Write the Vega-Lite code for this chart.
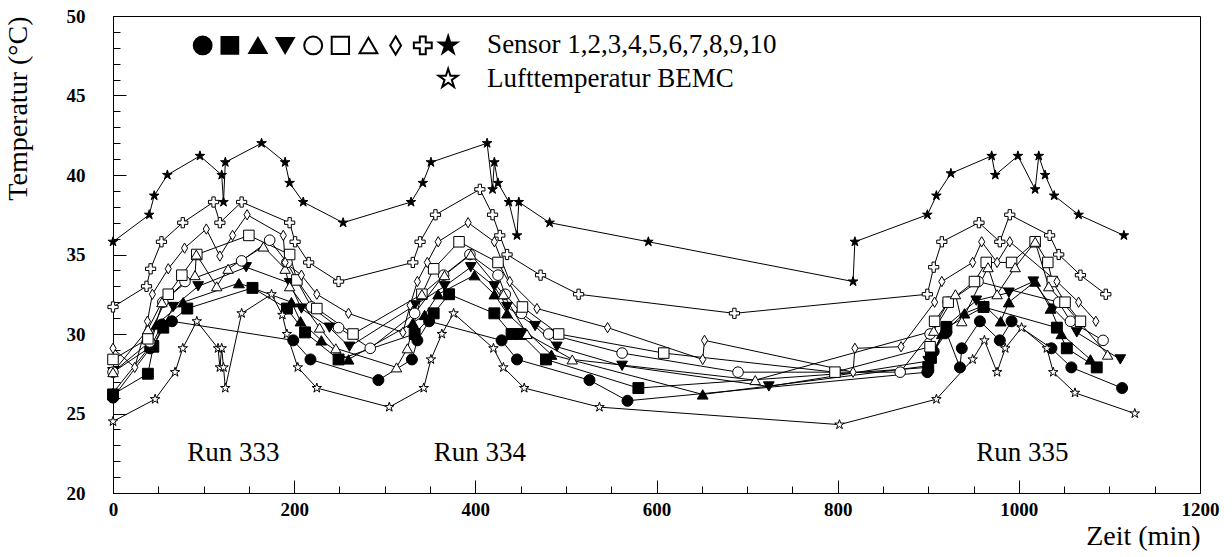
{
  "$schema": "https://vega.github.io/schema/vega-lite/v6.json",
  "width": 1087,
  "height": 477,
  "autosize": {"type": "none"},
  "padding": {"left": 113, "top": 16, "right": 32, "bottom": 64},
  "background": "white",
  "config": {
    "view": {"stroke": "black", "strokeWidth": 1},
    "font": "Liberation Serif",
    "axis": {"grid": false, "domainColor": "black", "tickColor": "black", "labelColor": "black", "titleColor": "black"}
  },
  "resolve": {"axis": {"x": "independent", "y": "independent"}},
  "datasets": {
    "main": [
      {"sensor":"S1","zeit":0,"temp":26.0},{"sensor":"S1","zeit":41,"temp":29.1},{"sensor":"S1","zeit":54,"temp":30.6},{"sensor":"S1","zeit":65,"temp":30.8},{"sensor":"S1","zeit":199,"temp":29.6},{"sensor":"S1","zeit":218,"temp":28.4},{"sensor":"S1","zeit":293,"temp":27.1},{"sensor":"S1","zeit":330,"temp":28.4},{"sensor":"S1","zeit":336,"temp":29.6},{"sensor":"S1","zeit":349,"temp":30.8},{"sensor":"S1","zeit":429,"temp":29.6},{"sensor":"S1","zeit":446,"temp":28.4},{"sensor":"S1","zeit":526,"temp":27.1},{"sensor":"S1","zeit":568,"temp":25.8},{"sensor":"S1","zeit":899,"temp":27.6},{"sensor":"S1","zeit":906,"temp":28.9},{"sensor":"S1","zeit":920,"temp":30.1},{"sensor":"S1","zeit":935,"temp":27.9},{"sensor":"S1","zeit":937,"temp":29.1},{"sensor":"S1","zeit":957,"temp":30.8},{"sensor":"S1","zeit":979,"temp":29.6},{"sensor":"S1","zeit":992,"temp":30.8},{"sensor":"S1","zeit":1036,"temp":29.1},{"sensor":"S1","zeit":1058,"temp":27.9},{"sensor":"S1","zeit":1114,"temp":26.6},
      {"sensor":"S2","zeit":0,"temp":26.2},{"sensor":"S2","zeit":38.5,"temp":27.5},{"sensor":"S2","zeit":44.5,"temp":29.2},{"sensor":"S2","zeit":55.5,"temp":30.4},{"sensor":"S2","zeit":82,"temp":31.6},{"sensor":"S2","zeit":154,"temp":32.9},{"sensor":"S2","zeit":192,"temp":31.6},{"sensor":"S2","zeit":212,"temp":30.1},{"sensor":"S2","zeit":249,"temp":28.4},{"sensor":"S2","zeit":333,"temp":30.0},{"sensor":"S2","zeit":354,"temp":31.3},{"sensor":"S2","zeit":371,"temp":32.5},{"sensor":"S2","zeit":421,"temp":31.3},{"sensor":"S2","zeit":440,"temp":30.0},{"sensor":"S2","zeit":450,"temp":30.0},{"sensor":"S2","zeit":478,"temp":28.4},{"sensor":"S2","zeit":580,"temp":26.6},{"sensor":"S2","zeit":900,"temp":27.9},{"sensor":"S2","zeit":903,"temp":28.5},{"sensor":"S2","zeit":920,"temp":30.4},{"sensor":"S2","zeit":961,"temp":31.7},{"sensor":"S2","zeit":1042,"temp":30.4},{"sensor":"S2","zeit":1053,"temp":29.1},{"sensor":"S2","zeit":1086,"temp":27.9},
      {"sensor":"S3","zeit":0,"temp":26.3},{"sensor":"S3","zeit":40.5,"temp":29.2},{"sensor":"S3","zeit":48,"temp":30.6},{"sensor":"S3","zeit":77.5,"temp":32.0},{"sensor":"S3","zeit":139,"temp":33.2},{"sensor":"S3","zeit":197,"temp":32.0},{"sensor":"S3","zeit":207,"temp":30.8},{"sensor":"S3","zeit":230,"temp":29.6},{"sensor":"S3","zeit":260,"temp":28.4},{"sensor":"S3","zeit":331,"temp":30.7},{"sensor":"S3","zeit":344,"temp":31.2},{"sensor":"S3","zeit":359,"temp":32.5},{"sensor":"S3","zeit":399,"temp":33.7},{"sensor":"S3","zeit":421,"temp":32.5},{"sensor":"S3","zeit":435,"temp":31.3},{"sensor":"S3","zeit":484,"temp":28.7},{"sensor":"S3","zeit":651,"temp":26.2},{"sensor":"S3","zeit":900,"temp":28.0},{"sensor":"S3","zeit":915,"temp":30.0},{"sensor":"S3","zeit":940,"temp":31.3},{"sensor":"S3","zeit":962,"temp":31.8},{"sensor":"S3","zeit":980,"temp":30.8},{"sensor":"S3","zeit":989,"temp":32.0},{"sensor":"S3","zeit":1018,"temp":33.3},{"sensor":"S3","zeit":1035,"temp":31.6},{"sensor":"S3","zeit":1047,"temp":30.0},{"sensor":"S3","zeit":1079,"temp":28.4},
      {"sensor":"S4","zeit":0,"temp":27.6},{"sensor":"S4","zeit":44.5,"temp":29.3},{"sensor":"S4","zeit":66.5,"temp":31.7},{"sensor":"S4","zeit":94,"temp":33.0},{"sensor":"S4","zeit":147,"temp":34.2},{"sensor":"S4","zeit":195,"temp":33.2},{"sensor":"S4","zeit":208,"temp":31.6},{"sensor":"S4","zeit":239,"temp":30.4},{"sensor":"S4","zeit":261,"temp":29.2},{"sensor":"S4","zeit":333,"temp":31.8},{"sensor":"S4","zeit":366,"temp":33.0},{"sensor":"S4","zeit":395,"temp":34.2},{"sensor":"S4","zeit":421,"temp":33.0},{"sensor":"S4","zeit":435,"temp":31.7},{"sensor":"S4","zeit":466,"temp":30.5},{"sensor":"S4","zeit":490,"temp":29.2},{"sensor":"S4","zeit":562,"temp":28.0},{"sensor":"S4","zeit":724,"temp":26.7},{"sensor":"S4","zeit":900,"temp":28.3},{"sensor":"S4","zeit":920,"temp":30.5},{"sensor":"S4","zeit":953,"temp":32.1},{"sensor":"S4","zeit":989,"temp":32.6},{"sensor":"S4","zeit":1016,"temp":33.3},{"sensor":"S4","zeit":1038,"temp":31.6},{"sensor":"S4","zeit":1064,"temp":30.1},{"sensor":"S4","zeit":1112,"temp":28.4},
      {"sensor":"S5","zeit":0,"temp":27.6},{"sensor":"S5","zeit":40.5,"temp":29.5},{"sensor":"S5","zeit":55,"temp":32.0},{"sensor":"S5","zeit":79.5,"temp":33.3},{"sensor":"S5","zeit":142,"temp":34.6},{"sensor":"S5","zeit":173,"temp":35.9},{"sensor":"S5","zeit":192,"temp":34.5},{"sensor":"S5","zeit":219,"temp":31.7},{"sensor":"S5","zeit":249,"temp":30.4},{"sensor":"S5","zeit":284,"temp":29.1},{"sensor":"S5","zeit":333,"temp":31.3},{"sensor":"S5","zeit":365,"temp":33.7},{"sensor":"S5","zeit":394,"temp":35.0},{"sensor":"S5","zeit":425,"temp":33.7},{"sensor":"S5","zeit":433,"temp":32.5},{"sensor":"S5","zeit":451,"temp":31.3},{"sensor":"S5","zeit":481,"temp":30.0},{"sensor":"S5","zeit":562,"temp":28.8},{"sensor":"S5","zeit":690,"temp":27.6},{"sensor":"S5","zeit":869,"temp":27.6},{"sensor":"S5","zeit":902,"temp":30.0},{"sensor":"S5","zeit":922,"temp":32.0},{"sensor":"S5","zeit":955,"temp":33.3},{"sensor":"S5","zeit":1044,"temp":32.0},{"sensor":"S5","zeit":1057,"temp":30.8},{"sensor":"S5","zeit":1093,"temp":29.6},
      {"sensor":"S6","zeit":0,"temp":28.4},{"sensor":"S6","zeit":38.5,"temp":29.7},{"sensor":"S6","zeit":61,"temp":32.5},{"sensor":"S6","zeit":76,"temp":33.7},{"sensor":"S6","zeit":92.5,"temp":35.0},{"sensor":"S6","zeit":150,"temp":36.2},{"sensor":"S6","zeit":195,"temp":35.0},{"sensor":"S6","zeit":203,"temp":33.4},{"sensor":"S6","zeit":225,"temp":31.6},{"sensor":"S6","zeit":265,"temp":30.0},{"sensor":"S6","zeit":341,"temp":32.5},{"sensor":"S6","zeit":354,"temp":34.1},{"sensor":"S6","zeit":382,"temp":35.8},{"sensor":"S6","zeit":425,"temp":34.5},{"sensor":"S6","zeit":452,"temp":31.7},{"sensor":"S6","zeit":492,"temp":30.0},{"sensor":"S6","zeit":608,"temp":28.8},{"sensor":"S6","zeit":797,"temp":27.6},{"sensor":"S6","zeit":902,"temp":29.2},{"sensor":"S6","zeit":907,"temp":30.8},{"sensor":"S6","zeit":922,"temp":32.0},{"sensor":"S6","zeit":951,"temp":33.3},{"sensor":"S6","zeit":964,"temp":34.5},{"sensor":"S6","zeit":992,"temp":34.5},{"sensor":"S6","zeit":1018,"temp":35.8},{"sensor":"S6","zeit":1032,"temp":34.5},{"sensor":"S6","zeit":1037,"temp":33.3},{"sensor":"S6","zeit":1051,"temp":32.0},{"sensor":"S6","zeit":1068,"temp":30.8},
      {"sensor":"S7","zeit":0,"temp":27.6},{"sensor":"S7","zeit":38.5,"temp":30.3},{"sensor":"S7","zeit":54,"temp":32.0},{"sensor":"S7","zeit":90.5,"temp":33.7},{"sensor":"S7","zeit":92,"temp":35.0},{"sensor":"S7","zeit":114.5,"temp":33.0},{"sensor":"S7","zeit":127,"temp":34.1},{"sensor":"S7","zeit":166,"temp":35.5},{"sensor":"S7","zeit":190,"temp":34.1},{"sensor":"S7","zeit":195,"temp":33.0},{"sensor":"S7","zeit":228,"temp":30.4},{"sensor":"S7","zeit":246,"temp":29.1},{"sensor":"S7","zeit":313,"temp":27.9},{"sensor":"S7","zeit":325,"temp":29.1},{"sensor":"S7","zeit":341,"temp":32.5},{"sensor":"S7","zeit":366,"temp":33.7},{"sensor":"S7","zeit":395,"temp":35.0},{"sensor":"S7","zeit":431,"temp":32.5},{"sensor":"S7","zeit":457,"temp":30.0},{"sensor":"S7","zeit":507,"temp":28.4},{"sensor":"S7","zeit":709,"temp":27.1},{"sensor":"S7","zeit":906,"temp":30.2},{"sensor":"S7","zeit":930,"temp":32.5},{"sensor":"S7","zeit":937,"temp":30.8},{"sensor":"S7","zeit":966,"temp":34.2},{"sensor":"S7","zeit":976,"temp":32.5},{"sensor":"S7","zeit":996,"temp":34.2},{"sensor":"S7","zeit":1018,"temp":35.8},{"sensor":"S7","zeit":1033,"temp":33.0},{"sensor":"S7","zeit":1098,"temp":28.7},
      {"sensor":"S8","zeit":0,"temp":29.1},{"sensor":"S8","zeit":24,"temp":27.9},{"sensor":"S8","zeit":38,"temp":30.8},{"sensor":"S8","zeit":43.5,"temp":32.5},{"sensor":"S8","zeit":61,"temp":34.1},{"sensor":"S8","zeit":79,"temp":35.4},{"sensor":"S8","zeit":103,"temp":36.6},{"sensor":"S8","zeit":118,"temp":34.9},{"sensor":"S8","zeit":132,"temp":36.2},{"sensor":"S8","zeit":148,"temp":37.5},{"sensor":"S8","zeit":188,"temp":36.2},{"sensor":"S8","zeit":190,"temp":34.5},{"sensor":"S8","zeit":208,"temp":33.7},{"sensor":"S8","zeit":225,"temp":32.5},{"sensor":"S8","zeit":260,"temp":31.3},{"sensor":"S8","zeit":320,"temp":30.1},{"sensor":"S8","zeit":328,"temp":31.8},{"sensor":"S8","zeit":336,"temp":33.3},{"sensor":"S8","zeit":347,"temp":34.5},{"sensor":"S8","zeit":359,"temp":35.8},{"sensor":"S8","zeit":392,"temp":37.0},{"sensor":"S8","zeit":421,"temp":35.8},{"sensor":"S8","zeit":438,"temp":33.3},{"sensor":"S8","zeit":468,"temp":31.6},{"sensor":"S8","zeit":546,"temp":30.4},{"sensor":"S8","zeit":651,"temp":28.4},{"sensor":"S8","zeit":653,"temp":29.6},{"sensor":"S8","zeit":817,"temp":27.6},{"sensor":"S8","zeit":819,"temp":29.1},{"sensor":"S8","zeit":870,"temp":29.2},{"sensor":"S8","zeit":907,"temp":32.0},{"sensor":"S8","zeit":915,"temp":33.3},{"sensor":"S8","zeit":949,"temp":34.5},{"sensor":"S8","zeit":959,"temp":35.8},{"sensor":"S8","zeit":976,"temp":34.5},{"sensor":"S8","zeit":990,"temp":35.8},{"sensor":"S8","zeit":1042,"temp":33.3},{"sensor":"S8","zeit":1066,"temp":32.0},{"sensor":"S8","zeit":1085,"temp":30.8},
      {"sensor":"S9","zeit":0,"temp":31.7},{"sensor":"S9","zeit":37,"temp":33.0},{"sensor":"S9","zeit":41.5,"temp":34.1},{"sensor":"S9","zeit":53.5,"temp":35.8},{"sensor":"S9","zeit":77,"temp":37.0},{"sensor":"S9","zeit":111,"temp":38.3},{"sensor":"S9","zeit":118,"temp":37.0},{"sensor":"S9","zeit":142,"temp":38.3},{"sensor":"S9","zeit":195,"temp":37.0},{"sensor":"S9","zeit":201,"temp":35.8},{"sensor":"S9","zeit":216,"temp":34.5},{"sensor":"S9","zeit":249,"temp":33.3},{"sensor":"S9","zeit":331,"temp":34.5},{"sensor":"S9","zeit":339,"temp":35.8},{"sensor":"S9","zeit":356,"temp":37.5},{"sensor":"S9","zeit":405,"temp":39.1},{"sensor":"S9","zeit":419,"temp":37.5},{"sensor":"S9","zeit":427,"temp":36.2},{"sensor":"S9","zeit":435,"temp":35.0},{"sensor":"S9","zeit":472,"temp":33.7},{"sensor":"S9","zeit":514,"temp":32.5},{"sensor":"S9","zeit":686,"temp":31.3},{"sensor":"S9","zeit":899,"temp":32.5},{"sensor":"S9","zeit":906,"temp":34.2},{"sensor":"S9","zeit":915,"temp":35.8},{"sensor":"S9","zeit":956,"temp":37.0},{"sensor":"S9","zeit":979,"temp":35.8},{"sensor":"S9","zeit":990,"temp":37.5},{"sensor":"S9","zeit":1034,"temp":36.2},{"sensor":"S9","zeit":1044,"temp":35.0},{"sensor":"S9","zeit":1068,"temp":33.7},{"sensor":"S9","zeit":1096,"temp":32.5},
      {"sensor":"S10","zeit":0,"temp":35.8},{"sensor":"S10","zeit":40,"temp":37.5},{"sensor":"S10","zeit":45.5,"temp":38.7},{"sensor":"S10","zeit":60,"temp":40.0},{"sensor":"S10","zeit":96,"temp":41.2},{"sensor":"S10","zeit":120,"temp":40.0},{"sensor":"S10","zeit":122,"temp":38.3},{"sensor":"S10","zeit":124,"temp":40.8},{"sensor":"S10","zeit":164,"temp":42.0},{"sensor":"S10","zeit":190,"temp":40.8},{"sensor":"S10","zeit":195,"temp":39.5},{"sensor":"S10","zeit":210,"temp":38.3},{"sensor":"S10","zeit":254,"temp":37.0},{"sensor":"S10","zeit":329,"temp":38.3},{"sensor":"S10","zeit":342,"temp":39.5},{"sensor":"S10","zeit":351,"temp":40.8},{"sensor":"S10","zeit":413,"temp":42.0},{"sensor":"S10","zeit":419,"temp":39.1},{"sensor":"S10","zeit":421,"temp":40.8},{"sensor":"S10","zeit":425,"temp":39.5},{"sensor":"S10","zeit":437,"temp":38.3},{"sensor":"S10","zeit":446,"temp":36.2},{"sensor":"S10","zeit":448,"temp":38.3},{"sensor":"S10","zeit":482,"temp":37.0},{"sensor":"S10","zeit":591,"temp":35.8},{"sensor":"S10","zeit":817,"temp":33.3},{"sensor":"S10","zeit":819,"temp":35.8},{"sensor":"S10","zeit":899,"temp":37.5},{"sensor":"S10","zeit":909,"temp":38.7},{"sensor":"S10","zeit":925,"temp":40.1},{"sensor":"S10","zeit":970,"temp":41.2},{"sensor":"S10","zeit":974,"temp":40.0},{"sensor":"S10","zeit":999,"temp":41.2},{"sensor":"S10","zeit":1018,"temp":39.1},{"sensor":"S10","zeit":1022,"temp":41.2},{"sensor":"S10","zeit":1029,"temp":40.0},{"sensor":"S10","zeit":1039,"temp":38.7},{"sensor":"S10","zeit":1066,"temp":37.5},{"sensor":"S10","zeit":1116,"temp":36.2},
      {"sensor":"Luft","zeit":0,"temp":24.5},{"sensor":"Luft","zeit":46.5,"temp":25.9},{"sensor":"Luft","zeit":68.5,"temp":27.6},{"sensor":"Luft","zeit":77,"temp":29.1},{"sensor":"Luft","zeit":92.5,"temp":30.8},{"sensor":"Luft","zeit":116,"temp":29.1},{"sensor":"Luft","zeit":118,"temp":27.9},{"sensor":"Luft","zeit":120,"temp":29.1},{"sensor":"Luft","zeit":122,"temp":27.9},{"sensor":"Luft","zeit":124,"temp":26.6},{"sensor":"Luft","zeit":142,"temp":31.3},{"sensor":"Luft","zeit":175,"temp":32.5},{"sensor":"Luft","zeit":187,"temp":31.2},{"sensor":"Luft","zeit":192,"temp":30.0},{"sensor":"Luft","zeit":204,"temp":27.9},{"sensor":"Luft","zeit":225,"temp":26.6},{"sensor":"Luft","zeit":305,"temp":25.4},{"sensor":"Luft","zeit":343,"temp":26.6},{"sensor":"Luft","zeit":351,"temp":28.4},{"sensor":"Luft","zeit":363,"temp":30.0},{"sensor":"Luft","zeit":376,"temp":31.3},{"sensor":"Luft","zeit":420,"temp":29.1},{"sensor":"Luft","zeit":431,"temp":27.9},{"sensor":"Luft","zeit":454,"temp":26.6},{"sensor":"Luft","zeit":537,"temp":25.4},{"sensor":"Luft","zeit":802,"temp":24.3},{"sensor":"Luft","zeit":909,"temp":25.9},{"sensor":"Luft","zeit":949,"temp":28.4},{"sensor":"Luft","zeit":962,"temp":29.6},{"sensor":"Luft","zeit":976,"temp":27.6},{"sensor":"Luft","zeit":985,"temp":29.1},{"sensor":"Luft","zeit":1003,"temp":30.4},{"sensor":"Luft","zeit":1031,"temp":29.1},{"sensor":"Luft","zeit":1038,"temp":27.6},{"sensor":"Luft","zeit":1062,"temp":26.3},{"sensor":"Luft","zeit":1128,"temp":25.0}
    ]
  },
  "layer": [
    {
      "data": {"name": "main"},
      "mark": {"type": "line", "color": "black", "strokeWidth": 1},
      "encoding": {
        "x": {"field": "zeit", "type": "quantitative",
          "scale": {"domain": [0, 1200], "nice": false, "zero": false},
          "axis": {
            "orient": "bottom",
            "values": [0,200,400,600,800,1000,1200],
            "format": "d",
            "tickSize": -13,
            "labelOverlap": false,
            "labelFont": "Liberation Serif", "labelFontWeight": "bold", "labelFontSize": 19,
            "labelPadding": 20, "labelFlush": false,
            "title": "Zeit (min)", "titleFont": "Liberation Serif", "titleFontWeight": "normal", "titleFontSize": 28,
            "titleAnchor": "end", "titlePadding": 3
          }
        },
        "y": {"field": "temp", "type": "quantitative",
          "scale": {"domain": [20, 50], "nice": false, "zero": false},
          "axis": {
            "orient": "left",
            "values": [20,25,30,35,40,45,50],
            "format": "d",
            "tickSize": -13,
            "labelOverlap": false,
            "labelFont": "Liberation Serif", "labelFontWeight": "bold", "labelFontSize": 19,
            "labelPadding": 41, "labelFlush": false,
            "title": "Temperatur (°C)", "titleFont": "Liberation Serif", "titleFontWeight": "normal", "titleFontSize": 28,
            "titleAnchor": "end", "titlePadding": 34
          }
        },
        "detail": {"field": "sensor", "type": "nominal"}
      }
    },
    {
      "data": {"name": "main"},
      "mark": {"type": "point", "filled": true, "stroke": "black", "strokeWidth": 1, "opacity": 1},
      "encoding": {
        "x": {"field": "zeit", "type": "quantitative",
          "axis": {"orient": "bottom", "values": [50,100,150,250,300,350,450,500,550,650,700,750,850,900,950,1050,1100,1150],
            "tickSize": -7, "labels": false, "domain": false, "title": null}},
        "y": {"field": "temp", "type": "quantitative",
          "axis": {"orient": "left", "values": [21,22,23,24,26,27,28,29,31,32,33,34,36,37,38,39,41,42,43,44,46,47,48,49],
            "tickSize": -7, "labels": false, "domain": false, "title": null}},
        "shape": {"field": "sensor", "type": "nominal", "legend": null,
          "scale": {"domain": ["S1","S2","S3","S4","S5","S6","S7","S8","S9","S10","Luft"],
            "range": ["circle","square","triangle-up","triangle-down","circle","square","triangle-up",
              "M0,-1L0.6,0L0,1L-0.6,0Z",
              "M-0.33,-1H0.33V-0.33H1V0.33H0.33V1H-0.33V0.33H-1V-0.33H-0.33Z",
              "M0,-1L0.2245,-0.309L0.951,-0.309L0.363,0.118L0.588,0.809L0,0.382L-0.588,0.809L-0.363,0.118L-0.951,-0.309L-0.2245,-0.309Z",
              "M0,-1L0.2245,-0.309L0.951,-0.309L0.363,0.118L0.588,0.809L0,0.382L-0.588,0.809L-0.363,0.118L-0.951,-0.309L-0.2245,-0.309Z"]}},
        "fill": {"field": "sensor", "type": "nominal", "legend": null,
          "scale": {"domain": ["S1","S2","S3","S4","S5","S6","S7","S8","S9","S10","Luft"],
            "range": ["black","black","black","black","white","white","white","white","white","black","white"]}},
        "size": {"field": "sensor", "type": "nominal", "legend": null,
          "scale": {"domain": ["S1","S2","S3","S4","S5","S6","S7","S8","S9","S10","Luft"],
            "range": [121,100,110,110,144,144,150,169,144,150,180]}}
      }
    },
    {"data": {"values": [{}]}, "mark": {"type": "text", "text": "Run 333", "font": "Liberation Serif", "fontSize": 27, "align": "center", "baseline": "alphabetic", "color": "black"},
      "encoding": {"x": {"datum": 133, "axis": null}, "y": {"datum": 22.0, "axis": null}}},
    {"data": {"values": [{}]}, "mark": {"type": "text", "text": "Run 334", "font": "Liberation Serif", "fontSize": 27, "align": "center", "baseline": "alphabetic", "color": "black"},
      "encoding": {"x": {"datum": 405, "axis": null}, "y": {"datum": 22.0, "axis": null}}},
    {"data": {"values": [{}]}, "mark": {"type": "text", "text": "Run 335", "font": "Liberation Serif", "fontSize": 27, "align": "center", "baseline": "alphabetic", "color": "black"},
      "encoding": {"x": {"datum": 1004, "axis": null}, "y": {"datum": 22.0, "axis": null}}},
    {"data": {"values": [{}]}, "mark": {"type": "text", "text": "Sensor 1,2,3,4,5,6,7,8,9,10", "font": "Liberation Serif", "fontSize": 27, "align": "left", "baseline": "middle", "color": "black"},
      "encoding": {"x": {"datum": 413, "axis": null}, "y": {"datum": 48.15, "axis": null}}},
    {"data": {"values": [{}]}, "mark": {"type": "text", "text": "Lufttemperatur BEMC", "font": "Liberation Serif", "fontSize": 27, "align": "left", "baseline": "middle", "color": "black"},
      "encoding": {"x": {"datum": 413, "axis": null}, "y": {"datum": 46.05, "axis": null}}},
    {"data": {"values": [{}]}, "mark": {"type": "point", "shape": "circle", "filled": true, "fill": "black", "stroke": "black", "size": 320, "opacity": 1},
      "encoding": {"x": {"datum": 99, "axis": null}, "y": {"datum": 48.15, "axis": null}}},
    {"data": {"values": [{}]}, "mark": {"type": "point", "shape": "square", "filled": true, "fill": "black", "stroke": "black", "size": 280, "opacity": 1},
      "encoding": {"x": {"datum": 129, "axis": null}, "y": {"datum": 48.15, "axis": null}}},
    {"data": {"values": [{}]}, "mark": {"type": "point", "shape": "triangle-up", "filled": true, "fill": "black", "stroke": "black", "size": 300, "opacity": 1},
      "encoding": {"x": {"datum": 160, "axis": null}, "y": {"datum": 48.15, "axis": null}}},
    {"data": {"values": [{}]}, "mark": {"type": "point", "shape": "triangle-down", "filled": true, "fill": "black", "stroke": "black", "size": 300, "opacity": 1},
      "encoding": {"x": {"datum": 190, "axis": null}, "y": {"datum": 48.15, "axis": null}}},
    {"data": {"values": [{}]}, "mark": {"type": "point", "shape": "circle", "filled": true, "fill": "white", "stroke": "black", "size": 320, "opacity": 1},
      "encoding": {"x": {"datum": 221, "axis": null}, "y": {"datum": 48.15, "axis": null}}},
    {"data": {"values": [{}]}, "mark": {"type": "point", "shape": "square", "filled": true, "fill": "white", "stroke": "black", "size": 300, "opacity": 1},
      "encoding": {"x": {"datum": 251, "axis": null}, "y": {"datum": 48.15, "axis": null}}},
    {"data": {"values": [{}]}, "mark": {"type": "point", "shape": "triangle-up", "filled": true, "fill": "white", "stroke": "black", "size": 320, "opacity": 1},
      "encoding": {"x": {"datum": 282, "axis": null}, "y": {"datum": 48.15, "axis": null}}},
    {"data": {"values": [{}]}, "mark": {"type": "point", "shape": "M0,-1L0.6,0L0,1L-0.6,0Z", "filled": true, "fill": "white", "stroke": "black", "size": 330, "opacity": 1},
      "encoding": {"x": {"datum": 312, "axis": null}, "y": {"datum": 48.15, "axis": null}}},
    {"data": {"values": [{}]}, "mark": {"type": "point", "shape": "M-0.33,-1H0.33V-0.33H1V0.33H0.33V1H-0.33V0.33H-1V-0.33H-0.33Z", "filled": true, "fill": "white", "stroke": "black", "size": 320, "opacity": 1},
      "encoding": {"x": {"datum": 342, "axis": null}, "y": {"datum": 48.15, "axis": null}}},
    {"data": {"values": [{}]}, "mark": {"type": "point", "shape": "M0,-1L0.2245,-0.309L0.951,-0.309L0.363,0.118L0.588,0.809L0,0.382L-0.588,0.809L-0.363,0.118L-0.951,-0.309L-0.2245,-0.309Z", "filled": true, "fill": "black", "stroke": "black", "size": 360, "opacity": 1},
      "encoding": {"x": {"datum": 370, "axis": null}, "y": {"datum": 48.15, "axis": null}}},
    {"data": {"values": [{}]}, "mark": {"type": "point", "shape": "M0,-1L0.2245,-0.309L0.951,-0.309L0.363,0.118L0.588,0.809L0,0.382L-0.588,0.809L-0.363,0.118L-0.951,-0.309L-0.2245,-0.309Z", "filled": true, "fill": "white", "stroke": "black", "size": 400, "opacity": 1},
      "encoding": {"x": {"datum": 370, "axis": null}, "y": {"datum": 46.05, "axis": null}}}
  ]
}
